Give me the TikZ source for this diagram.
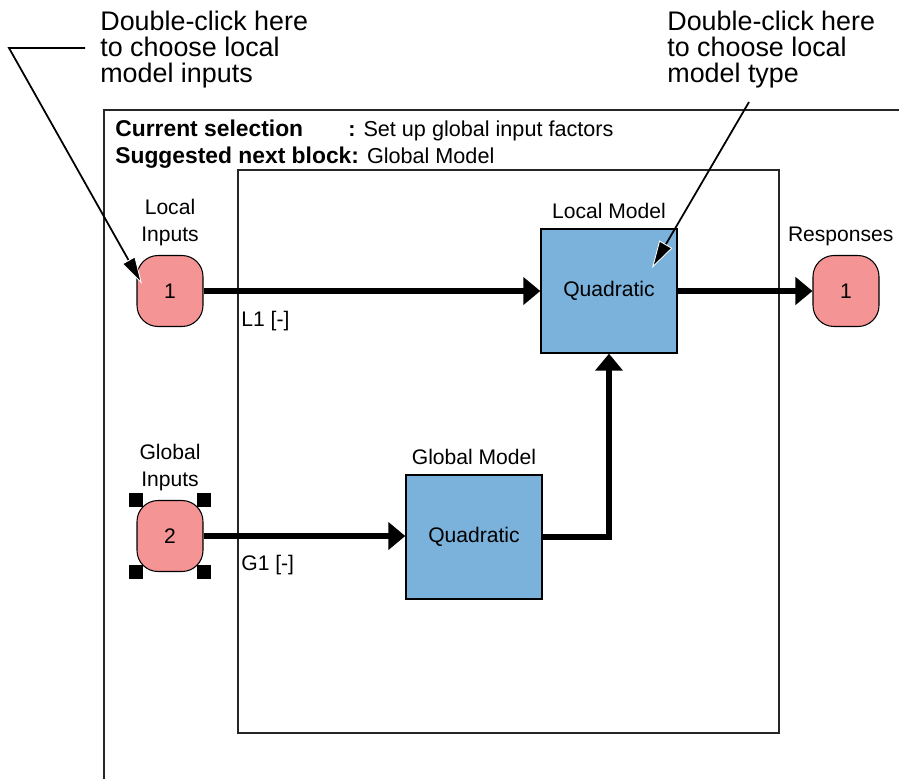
\documentclass[tikz,border=0pt]{standalone}
\usepackage{fontspec}
\setmainfont{Liberation Sans}
\usetikzlibrary{positioning,arrows.meta}
\definecolor{portpink}{RGB}{245,148,148}
\definecolor{blockblue}{RGB}{122,178,220}

\begin{document}
\begin{tikzpicture}[
    x=0.02cm, y=-0.02cm,
    port/.style={rectangle, rounded corners=0.42cm, draw, line width=0.6pt, fill=portpink, minimum width=1.32cm, minimum height=1.42cm, font=\fontsize{12}{14}\selectfont},
    block/.style={rectangle, draw, line width=0.8pt, fill=blockblue, minimum width=2.72cm, minimum height=2.48cm, font=\fontsize{12}{14}\selectfont},
    lbl/.style={align=center, inner sep=1pt, font=\fontsize{12}{15.3}\selectfont},
    note/.style={align=left, inner sep=0pt, font=\fontsize{15.3}{14.8}\selectfont},
    handle/.style={rectangle, fill=black, inner sep=0pt, minimum size=0.28cm},
    signal/.style={line width=3.4pt, -{Triangle[length=0.34cm, width=0.54cm]}},
    callout/.style={line width=1pt, -{Triangle[length=0.55cm, width=0.3cm, line width=0.5pt, color=white, fill=black]}},
    frame/.style={line width=0.9pt, draw=black!85}
]
\useasboundingbox (0,0) rectangle (899,779);

% Frames
\draw[frame] (104,779) -- (104,110) -- (899,110);
\draw[frame] (238,170) rectangle (779,733);

% Header
\node[anchor=base west, inner sep=0pt, font=\fontsize{13}{15}\selectfont\bfseries] (cursel) at (115,136) {Current selection};
\node[anchor=base west, inner sep=0pt, font=\fontsize{12.3}{15}\selectfont] (curval) at (348,136) {\textbf{:} Set up global input factors};
\node[anchor=base west, inner sep=0pt, font=\fontsize{12.3}{15}\selectfont] (nextsel) at (115,163) {{\fontsize{13}{15}\selectfont\bfseries Suggested next block:} Global Model};

% Ports
\node[port] (p1) at (170,291) {1};
\node[port] (p2) at (170,536) {2};
\node[port] (resp) at (846,291) {1};
\node[lbl, above=4pt of p1] (p1lbl) {Local\\Inputs};
\node[lbl, above=4pt of p2] (p2lbl) {Global\\Inputs};
\node[lbl, above=4pt of resp, xshift=-3pt] (resplbl) {Responses};
\foreach \c/\n in {north west/nw, north east/ne, south west/sw, south east/se}
    \node[handle] (hnd\n) at (p2.\c) {};

% Blocks
\node[block] (lmod) at (609,291) {Quadratic};
\node[block] (gmod) at (474,537) {Quadratic};
\node[lbl, above=4pt of lmod] (lmodlbl) {Local Model};
\node[lbl, above=4pt of gmod] (gmodlbl) {Global Model};

% Signals
\draw[signal] (p1.east) -- (lmod.west |- p1.east);
\draw[signal] (lmod.east) -- (resp.west |- lmod.east);
\draw[signal] (p2.east) -- (gmod.west |- p2.east);
\draw[signal] (gmod.east) -| (lmod.south);
\node[lbl, anchor=base west, inner sep=0pt] (l1lbl) at (241,326) {L1 [-]};
\node[lbl, anchor=base west, inner sep=0pt] (g1lbl) at (241,570) {G1 [-]};

% Callouts
\node[note, anchor=base west] (cl1) at (100,82) {Double-click here\\to choose local\\model inputs};
\node[note, anchor=base west] (cl2) at (667,82) {Double-click here\\to choose local\\model type};
\coordinate (start1) at (85,48);
\coordinate (bend1) at (9,48);
\coordinate (tip1) at ([shift={(-28,-7)}]p1.center);
\coordinate (start2) at (749,102);
\coordinate (tip2) at ([shift={(43,-23)}]lmod.center);
\draw[callout] (start1) -- (bend1) -- (tip1);
\draw[callout] (start2) -- (tip2);

\end{tikzpicture}
\end{document}
